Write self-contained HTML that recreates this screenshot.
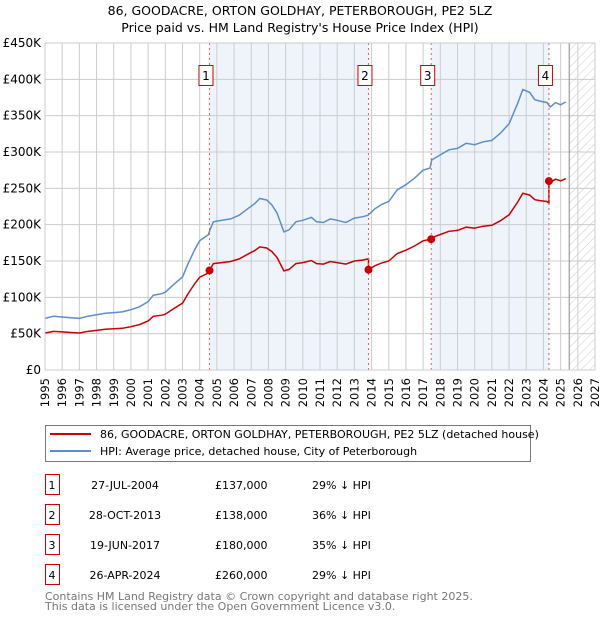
<!DOCTYPE html>
<html><head><meta charset="utf-8"><style>
body{margin:0;background:#fff;width:600px;height:620px;overflow:hidden;font-family:"DejaVu Sans","Liberation Sans",sans-serif;}
svg{position:absolute;left:0;top:0}
</style></head><body>
<svg id="chart" width="600" height="620" xmlns="http://www.w3.org/2000/svg">
<defs><pattern id="hatch" width="6" height="6" patternUnits="userSpaceOnUse" patternTransform="rotate(45)"><line x1="0" y1="0" x2="0" y2="6" stroke="#ccc" stroke-width="1"/></pattern></defs>
<text x="300" y="15" text-anchor="middle" font-size="12.5" fill="#000">86, GOODACRE, ORTON GOLDHAY, PETERBOROUGH, PE2 5LZ</text>
<text x="300" y="32" text-anchor="middle" font-size="12.5" fill="#000">Price paid vs. HM Land Registry's House Price Index (HPI)</text>
<g id="plot"></g>
<g>
<rect x="45.5" y="425.5" width="485" height="36" fill="#fff" stroke="#777"/>
<line x1="50" y1="434" x2="91" y2="434" stroke="#cc0000" stroke-width="2"/>
<text x="100" y="438" font-size="11">86, GOODACRE, ORTON GOLDHAY, PETERBOROUGH, PE2 5LZ (detached house)</text>
<line x1="50" y1="451" x2="91" y2="451" stroke="#5b8fd0" stroke-width="2"/>
<text x="100" y="455" font-size="11">HPI: Average price, detached house, City of Peterborough</text>
</g>
<g id="table" font-size="11"></g>
<text x="45" y="600" font-size="11" fill="#777">Contains HM Land Registry data © Crown copyright and database right 2025.</text>
<text x="45" y="610" font-size="11" fill="#777">This data is licensed under the Open Government Licence v3.0.</text>
</svg>
<script>
const hpiYears=[1995,1995.5,1996,1996.5,1997,1997.5,1998,1998.5,1999,1999.5,2000,2000.5,2001,2001.3,2001.8,2002,2002.5,2003,2003.3,2003.7,2004,2004.5,2004.6,2004.8,2005.3,2005.8,2006.3,2006.8,2007.2,2007.5,2007.9,2008.2,2008.5,2008.9,2009.2,2009.6,2010,2010.5,2010.8,2011.2,2011.6,2012,2012.5,2013,2013.5,2013.8,2014.2,2014.6,2015,2015.5,2016,2016.5,2017,2017.4,2017.5,2018,2018.5,2019,2019.5,2020,2020.5,2021,2021.5,2022,2022.5,2022.8,2023.2,2023.5,2023.8,2024.2,2024.4,2024.7,2025,2025.3];
const hpiValues=[71,74,73,72,71,74,76,78,79,80,83,87,94,103,105,107,118,128,145,165,178,186,193,204,206,208,213,222,229,236,234,227,216,190,193,204,206,210,204,203,208,206,203,209,211,213,222,228,232,248,255,264,275,278,289,296,303,305,312,310,314,316,326,339,367,386,382,372,370,368,362,368,365,369];
const saleYears=[2004.57,2013.82,2017.47,2024.32];
const salePrices=[137000,138000,180000,260000];
const saleLabels=["1","2","3","4"];
const saleDates=["27-JUL-2004","28-OCT-2013","19-JUN-2017","26-APR-2024"];
const salePriceText=["£137,000","£138,000","£180,000","£260,000"];
const salePctText=["29% ↓ HPI","36% ↓ HPI","35% ↓ HPI","29% ↓ HPI"];
const yTicks=[0,50,100,150,200,250,300,350,400,450];
const yTickLabels=["£0","£50K","£100K","£150K","£200K","£250K","£300K","£350K","£400K","£450K"];
const xTicks=[1995,1996,1997,1998,1999,2000,2001,2002,2003,2004,2005,2006,2007,2008,2009,2010,2011,2012,2013,2014,2015,2016,2017,2018,2019,2020,2021,2022,2023,2024,2025,2026,2027];
const X0=45,X1=595,Y0=370,Y1=43;
const xs=y=>X0+(y-1995)/(2027-1995)*(X1-X0);
const ys=k=>Y0-k/450*(Y0-Y1);
const NS="http://www.w3.org/2000/svg";
const plot=document.getElementById('plot');
function mk(tag,attrs,parent){const e=document.createElementNS(NS,tag);for(const k in attrs)e.setAttribute(k,attrs[k]);(parent||plot).appendChild(e);return e;}
function hpiAt(y){for(let i=0;i<hpiYears.length-1;i++){if(y>=hpiYears[i]&&y<=hpiYears[i+1]){const t=(y-hpiYears[i])/(hpiYears[i+1]-hpiYears[i]);return hpiValues[i]+t*(hpiValues[i+1]-hpiValues[i]);}}return hpiValues[hpiValues.length-1];}
for(let i=0;i<saleYears.length;i+=2){const x1=xs(saleYears[i]);const x2=i+1<saleYears.length?xs(saleYears[i+1]):xs(2025.5);
const r=mk('rect',{x:x1,y:Y1,width:x2-x1,height:Y0-Y1,fill:'#eef3fc'});

}
const hx=xs(2025.5);
const hr=mk('rect',{x:hx,y:Y1,width:X1-hx,height:Y0-Y1,fill:'url(#hatch)'});


xTicks.forEach(t=>{const l=mk('line',{x1:xs(t),x2:xs(t),y1:Y1,y2:Y0,stroke:'#cccccc','stroke-width':1});


const x=xs(t)+4,y=378;
const tx=mk('text',{x:x,y:y,'text-anchor':'end','font-size':11.5,transform:'rotate(-90 '+x+' '+y+')'});tx.textContent=t;

});
yTicks.forEach((t,i)=>{const l=mk('line',{x1:X0,x2:X1,y1:ys(t),y2:ys(t),stroke:'#cccccc','stroke-width':1});


const tx=mk('text',{x:X0-4,y:ys(t)+4,'text-anchor':'end','font-size':12});tx.textContent=yTickLabels[i];

});
const vl=mk('line',{x1:hx,x2:hx,y1:Y1,y2:Y0,stroke:'#888','stroke-width':1});


let d='';hpiYears.forEach((y,i)=>{d+=(i?'L':'M')+xs(y).toFixed(1)+','+ys(hpiValues[i]).toFixed(1);});
const hp=mk('path',{d:d,fill:'none',stroke:'#5b8fd0','stroke-width':1.5});


const ratios=saleYears.map((y,i)=>salePrices[i]/1000/hpiAt(y));
function ratioAt(y){let r=ratios[0];for(let i=0;i<saleYears.length;i++)if(y>=saleYears[i])r=ratios[i];return r;}
const pts=[];hpiYears.forEach((y,i)=>pts.push([y,hpiValues[i]*ratioAt(y)]));
saleYears.forEach((y,i)=>{pts.push([y-0.001,hpiAt(y)*(i?ratios[i-1]:ratios[0])]);pts.push([y,salePrices[i]/1000]);});
pts.sort((a,b)=>a[0]-b[0]);
let d2='';pts.forEach((p,i)=>{d2+=(i?'L':'M')+xs(p[0]).toFixed(1)+','+ys(p[1]).toFixed(1);});
const pp=mk('path',{d:d2,fill:'none',stroke:'#cc0000','stroke-width':1.5});


saleYears.forEach((y,i)=>{const x=xs(y);
const l=mk('line',{x1:x,x2:x,y1:Y1,y2:Y0,stroke:'#e06060','stroke-width':1,'stroke-dasharray':'2,3'});


const c=mk('circle',{cx:x,cy:ys(salePrices[i]/1000),r:4,fill:'#cc0000'});


const b=mk('rect',{x:x-10.5,y:65.5,width:14,height:20,fill:'#fff',stroke:'#cc0000'});


const t=mk('text',{x:x-3.5,y:80,'text-anchor':'middle','font-size':12});t.textContent=saleLabels[i];

});
const bd=mk('rect',{x:X0,y:Y1,width:X1-X0,height:Y0-Y1,fill:'none',stroke:'#cccccc'});


const tb=document.getElementById('table');
saleYears.forEach((y,i)=>{const cy=485+i*30;
const b=mk('rect',{x:45.5,y:cy-10.5,width:14,height:20,fill:'#fff',stroke:'#cc0000'},tb);


const n=mk('text',{x:52,y:cy+4,'text-anchor':'middle'},tb);n.textContent=saleLabels[i];


const dt=mk('text',{x:125,y:cy+4,'text-anchor':'middle'},tb);dt.textContent=saleDates[i];


const pr=mk('text',{x:215,y:cy+4},tb);pr.textContent=salePriceText[i];


const pc=mk('text',{x:312,y:cy+4},tb);pc.textContent=salePctText[i];

});
</script>
</body></html>
